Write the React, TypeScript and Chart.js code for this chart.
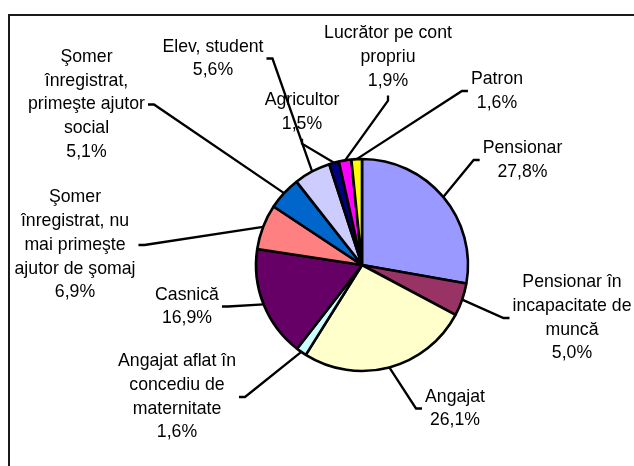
import React, { useEffect, useRef } from "react";
import { Chart, registerables } from "chart.js";

Chart.register(...registerables);

const categories: string[] = [
  "Pensionar",
  "Pensionar în\nincapacitate de\nmuncă",
  "Angajat",
  "Angajat aflat în\nconcediu de\nmaternitate",
  "Casnică",
  "Şomer\nînregistrat, nu\nmai primeşte\najutor de şomaj",
  "Şomer\nînregistrat,\nprimeşte ajutor\nsocial",
  "Elev, student",
  "Agricultor",
  "Lucrător pe cont\npropriu",
  "Patron",
];

const values: number[] = [27.8, 5.0, 26.1, 1.6, 16.9, 6.9, 5.1, 5.6, 1.5, 1.9, 1.6];

const colors: string[] = [
  "#9999FF",
  "#993366",
  "#FFFFCC",
  "#CCFFFF",
  "#660066",
  "#FF8080",
  "#0066CC",
  "#CCCCFF",
  "#000080",
  "#FF00FF",
  "#FFFF00",
];

// Label block centre, as offset from the pie centre, and side where the leader attaches
const labelOffsets: [number, number][] = [
  [160.5, -105],
  [210, 53],
  [93, 143.5],
  [-185, 132],
  [-175, 41.5],
  [-287, -20],
  [-275.5, -160.5],
  [-149, -206.5],
  [-60, -153],
  [26, -208],
  [135, -174],
];
const leaderSides: string[] = [
  "left",
  "left",
  "left",
  "right",
  "right",
  "right",
  "right",
  "right",
  "bottom",
  "bottom",
  "left",
];

const FONT = "17.7px 'Liberation Sans', Arial, sans-serif";
const LINE_H = 23.7;

const fmt = (v: number) => v.toFixed(1).replace(".", ",") + "%";

const framePlugin = {
  id: "frame",
  beforeDraw(chart: any) {
    const ctx = chart.ctx;
    ctx.save();
    ctx.fillStyle = "#ffffff";
    ctx.fillRect(0, 0, chart.width, chart.height);
    ctx.strokeStyle = "#1a1a1a";
    ctx.lineWidth = 2;
    ctx.strokeRect(9, 15, chart.width + 40, chart.height + 40);
    ctx.restore();
  },
};

const labelPlugin = {
  id: "outLabels",
  afterDatasetsDraw(chart: any) {
    const ctx = chart.ctx;
    const meta = chart.getDatasetMeta(0);
    ctx.save();
    ctx.font = FONT;
    meta.data.forEach((arc: any, i: number) => {
      const p = arc.getProps(["x", "y", "startAngle", "endAngle", "outerRadius"], true);
      const mid = (p.startAngle + p.endAngle) / 2;
      const ax = p.x + Math.cos(mid) * p.outerRadius;
      const ay = p.y + Math.sin(mid) * p.outerRadius;
      const lines = categories[i].split("\n").concat([fmt(values[i])]);
      const cx = p.x + labelOffsets[i][0];
      const cy = p.y + labelOffsets[i][1];
      const maxW = Math.max(...lines.map((l) => ctx.measureText(l).width));
      const side = leaderSides[i];
      let ex = cx,
        ey = cy,
        bx = cx,
        by = cy;
      if (side === "left") {
        ex = cx - maxW / 2 - 3;
        bx = ex - 6;
      } else if (side === "right") {
        ex = cx + maxW / 2 + 3;
        bx = ex + 6;
      } else {
        ey = cy + (lines.length * LINE_H) / 2 + 3;
        by = ey + 5;
      }
      ctx.strokeStyle = "#000";
      ctx.lineWidth = 2.3;
      ctx.lineJoin = "miter";
      ctx.beginPath();
      ctx.moveTo(ax, ay);
      ctx.lineTo(bx, by);
      ctx.lineTo(ex, ey);
      ctx.stroke();
    });
    ctx.fillStyle = "#000";
    ctx.textAlign = "center";
    ctx.textBaseline = "middle";
    meta.data.forEach((arc: any, i: number) => {
      const p = arc.getProps(["x", "y"], true);
      const lines = categories[i].split("\n").concat([fmt(values[i])]);
      const cx = p.x + labelOffsets[i][0];
      const cy = p.y + labelOffsets[i][1];
      lines.forEach((l, k) => {
        ctx.fillText(l, cx, cy + (k - (lines.length - 1) / 2) * LINE_H);
      });
    });
    ctx.restore();
  },
};

export default function App() {
  const ref = useRef<HTMLCanvasElement | null>(null);
  useEffect(() => {
    if (!ref.current) return;
    const chart = new Chart(ref.current, {
      type: "pie",
      data: {
        labels: categories,
        datasets: [
          {
            data: values,
            backgroundColor: colors,
            borderColor: "#000000",
            borderWidth: 2.6,
          },
        ],
      },
      options: {
        responsive: false,
        animation: false,
        radius: 106,
        layout: { padding: { left: 190, right: 100, top: 100, bottom: 36 } },
        plugins: {
          legend: { display: false },
          tooltip: { enabled: false },
        },
      } as any,
      plugins: [framePlugin, labelPlugin],
    });
    return () => chart.destroy();
  }, []);
  return (
    <div style={{ position: "absolute", left: 0, top: 0, width: 634, height: 466, background: "#fff" }}>
      <canvas ref={ref} width={634} height={466} style={{ display: "block" }} />
    </div>
  );
}
